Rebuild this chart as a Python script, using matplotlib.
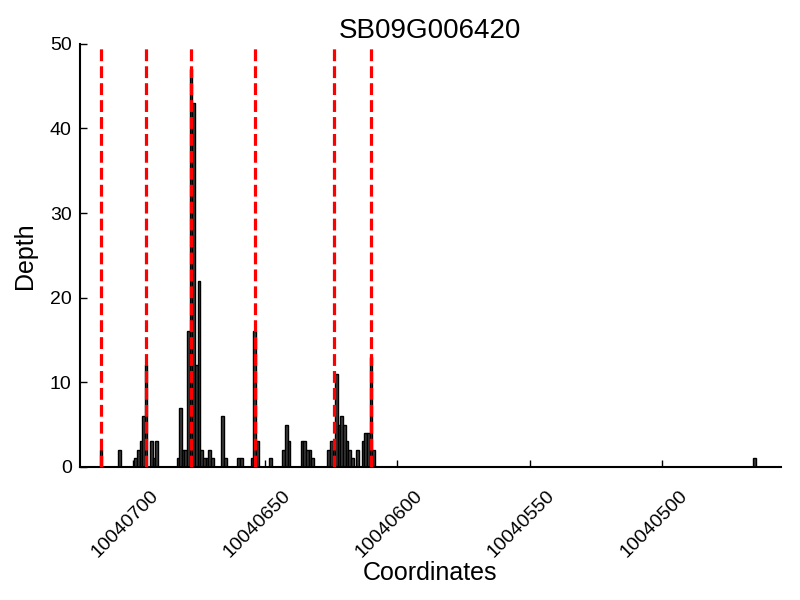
import numpy as np
import matplotlib
matplotlib.use("Agg")
import matplotlib.pyplot as plt
import matplotlib.transforms as mtransforms

plt.rcParams["font.family"] = ["Liberation Sans", "DejaVu Sans"]

gene = "SB09G006420"

# read depth per coordinate
positions = [10040712, 10040705, 10040699, 10040698, 10040697, 10040696, 10040695,
             10040693, 10040692, 10040691, 10040683, 10040682, 10040681, 10040680,
             10040679, 10040678, 10040677, 10040676, 10040675, 10040674, 10040673,
             10040672, 10040671, 10040670, 10040666, 10040665, 10040660, 10040659,
             10040655, 10040654, 10040653, 10040648, 10040643, 10040642, 10040641,
             10040636, 10040635, 10040634, 10040633, 10040632, 10040626, 10040625,
             10040624, 10040623, 10040622, 10040621, 10040620, 10040619, 10040618,
             10040617, 10040615, 10040613, 10040612, 10040611, 10040610, 10040609,
             10040465]
depth = [2, 2, 1, 2, 3, 6, 12,
         3, 1, 3, 1, 7, 2, 2,
         16, 47, 43, 12, 22, 2, 1,
         1, 2, 1, 6, 1, 1, 1,
         1, 16, 3, 1, 2, 5, 3,
         3, 3, 2, 2, 1, 2, 3,
         3, 11, 5, 6, 5, 3, 2,
         1, 2, 3, 4, 4, 13, 2,
         1]

# exon boundaries
boundaries = [10040712, 10040695, 10040678, 10040654, 10040624, 10040610]

xticks = [10040700, 10040650, 10040600, 10040550, 10040500]

fig = plt.figure(figsize=(8, 6), dpi=100)
ax = fig.add_axes([0.1, 0.222, 0.876, 0.705])

ax.bar(positions, depth, width=1, align="center", color="#3c3c3c",
       edgecolor="black", linewidth=1, zorder=2)
for b in boundaries:
    ax.axvline(b, color="red", linestyle="--", linewidth=2.3, zorder=3)

ax.set_xlim(10040720, 10040455)
ax.set_ylim(0, 50)
ax.set_xticks(xticks)
ax.set_xticklabels([str(t) for t in xticks], rotation=45, fontsize=14)
ax.set_yticks(range(0, 51, 10))
ax.tick_params(axis="y", labelsize=14, pad=6)
ax.tick_params(axis="x", pad=15)
ax.tick_params(direction="in", length=5, width=1, top=False, right=False)

# labels sit a little left of their ticks
shift = mtransforms.ScaledTranslation(-8 / 100, 0, fig.dpi_scale_trans)
for lab in ax.get_xticklabels():
    lab.set_transform(lab.get_transform() + shift)

ax.spines["top"].set_visible(False)
ax.spines["right"].set_visible(False)
ax.spines["left"].set_linewidth(1.5)
ax.spines["bottom"].set_linewidth(1.5)

ax.set_xlabel("Coordinates", fontsize=18, labelpad=0)
ax.set_ylabel("Depth", fontsize=18, labelpad=9)
ax.set_title(gene, fontsize=20, pad=2)

fig.savefig("out.png", dpi=100)
